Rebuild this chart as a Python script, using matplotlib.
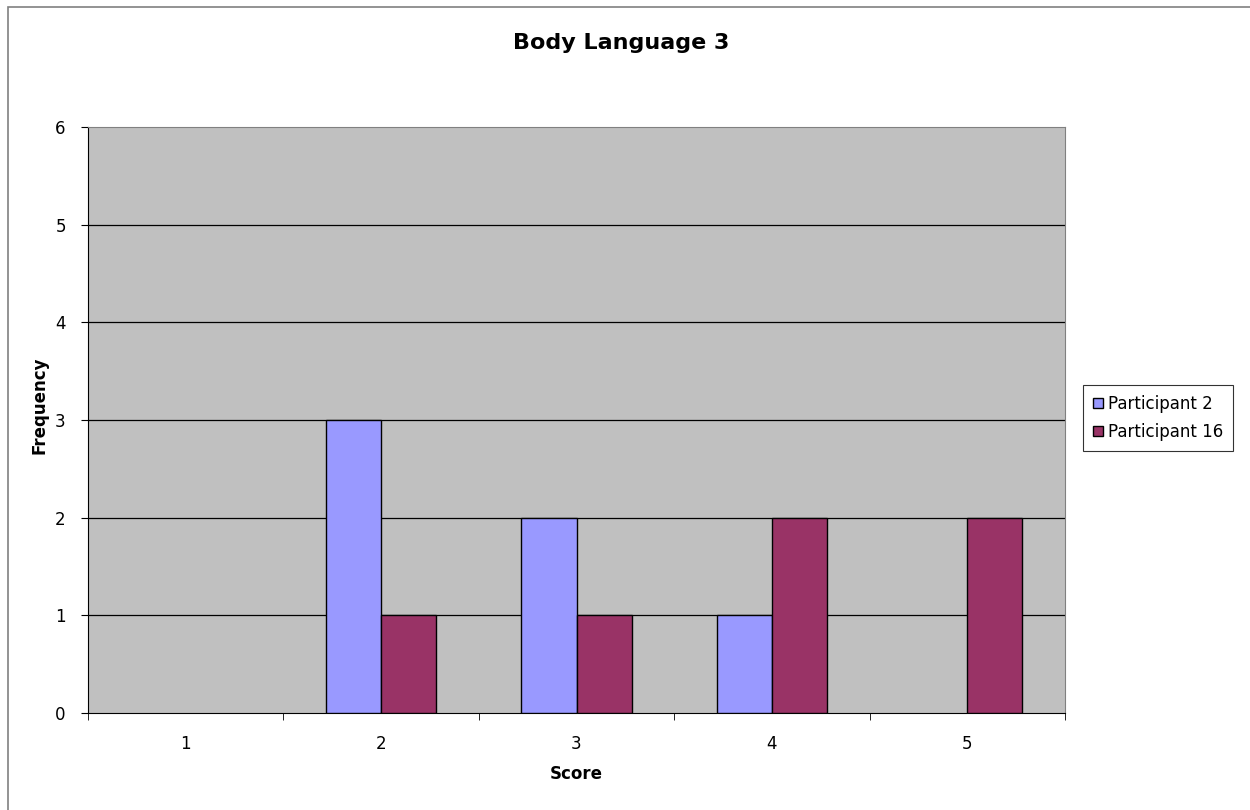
import matplotlib.pyplot as plt
import numpy as np
from matplotlib.patches import Rectangle

scores = ['1', '2', '3', '4', '5']
participant_2 = [0, 3, 2, 1, 0]
participant_16 = [0, 1, 1, 2, 2]

plt.rcParams['font.family'] = ['DejaVu Sans']

fig = plt.figure(figsize=(12.5, 8.1), dpi=100)
ax = fig.add_axes([88/1250, 1-713/810, 977/1250, 586/810])

# outer chart border (right/bottom run off the image)
fig.patches.append(Rectangle((8/1250, -0.1), 1.2, 1-7/810+0.1, transform=fig.transFigure,
                             fill=False, edgecolor='#808080', linewidth=1.2))

x = np.arange(len(scores))
w = 0.282
ax.set_facecolor('#C0C0C0')
b1 = ax.bar(x - w/2, participant_2, w, color='#9999FF', edgecolor='black', linewidth=1, label='Participant 2', zorder=3)
b2 = ax.bar(x + w/2, participant_16, w, color='#993366', edgecolor='black', linewidth=1, label='Participant 16', zorder=3)

ax.set_xlim(-0.5, 4.5)
ax.set_ylim(0, 6)
ax.set_yticks(range(7))
for yv in range(1, 6):
    ax.axhline(yv, color='black', linewidth=0.9, zorder=1)

ax.set_xticks(x)
ax.set_xticklabels(scores, fontsize=12)
ax.set_xticks(np.arange(-0.5, 5, 1), minor=True)
ax.tick_params(axis='x', which='major', length=0, pad=16)
ax.tick_params(axis='x', which='minor', length=5, direction='out', color='black')
ax.tick_params(axis='y', length=5, direction='out', labelsize=12, pad=11)

for s in ['top', 'right']:
    ax.spines[s].set_color('#808080')
for s in ['left', 'bottom']:
    ax.spines[s].set_color('black')

ax.set_xlabel('Score', fontsize=12, fontweight='bold')
ax.xaxis.set_label_coords(0.5, -(765-713)/586)
ax.set_ylabel('Frequency', fontsize=12, fontweight='bold')
ax.yaxis.set_label_coords(-(88-49)/977, (713-405)/586)
fig.text(621/1250, 1-43/810, 'Body Language 3', ha='center', va='center', fontsize=16, fontweight='bold')

leg = ax.legend(loc='center left', bbox_to_anchor=(1083/1250, 1-418/810), bbox_transform=fig.transFigure,
                borderaxespad=0, fontsize=12, frameon=True, fancybox=False, edgecolor='black',
                handlelength=0.6, handleheight=0.6, handletextpad=0.3, borderpad=0.6, labelspacing=0.6)
leg.get_frame().set_linewidth(0.8)

# empty bars should not leave an outline on the axis
for bars, vals in ((b1, participant_2), (b2, participant_16)):
    for p, v in zip(bars, vals):
        if v == 0:
            p.set_linewidth(0)

fig.savefig('out.png', dpi=100)
